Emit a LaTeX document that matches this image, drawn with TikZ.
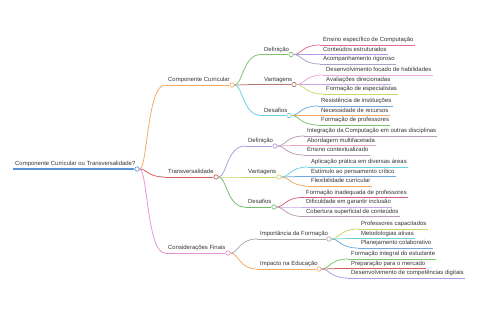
\documentclass[tikz,border=0pt]{standalone}
\usepackage{fontspec}
\setmainfont{Liberation Sans}
\definecolor{txt}{HTML}{333333}
\definecolor{cRoot}{HTML}{5B93D8}
\definecolor{cOrange}{HTML}{F4A863}
\definecolor{cRed}{HTML}{D65A5A}
\definecolor{cPink}{HTML}{E891D6}
\definecolor{cGreen}{HTML}{7CC36E}
\definecolor{cBrown}{HTML}{B57474}
\definecolor{cCyan}{HTML}{6CCFE0}
\definecolor{cRose}{HTML}{E07090}
\definecolor{cPurple}{HTML}{B596E8}
\definecolor{cLav}{HTML}{A9A0CC}
\definecolor{cPinkL}{HTML}{EDA6D8}
\definecolor{cLilac}{HTML}{C8A8E8}
\definecolor{cYG}{HTML}{C5D86A}
\definecolor{cBlue}{HTML}{6FA8DC}
\definecolor{cMauve}{HTML}{B99BB8}
\definecolor{cPinkT}{HTML}{EAA3BD}
\definecolor{cCrimson}{HTML}{D8607F}
\definecolor{cGray}{HTML}{AAAAAA}
\definecolor{cLavT}{HTML}{A99BE0}
\definecolor{cGreenT}{HTML}{6DBF6D}
\newcommand\mmnode[6]{%
  \coordinate (#1s) at (#2,#3);
  \node[lbl] (#1t) at (#2+3,#3-3) {#6};
  \node[dot, draw=#5] (#1) at (#4,#3) {};
  \draw[ln, #5] (#1s) -- (#1.west);
}
\newcommand\mmleaf[5]{%
  \coordinate (#1s) at (#2,#3);
  \node[lbl] (#1t) at (#2+3,#3-3) {#5};
  \draw[ln, #4] (#1s) -- ([xshift=1pt]#1t.east |- #1s);
}
\newcommand\mmlink[3]{%
  \draw[ln, #3] (#1.east) .. controls +(8,0) and +(-18,0) .. (#2s);
}
\begin{document}
\begin{tikzpicture}[x=1pt,y=-1pt,
  lbl/.style={anchor=base west, inner sep=0pt, text=txt, font=\fontsize{5.95}{7}\selectfont},
  dot/.style={circle, fill=white, line width=0.7pt, minimum size=4.4pt, inner sep=0pt},
  ln/.style={line width=0.75pt}]
\useasboundingbox (0,0) rectangle (480,320);
\fill[white] (0,0) rectangle (480,320);
% root
\coordinate (roots) at (13,169);
\node[lbl] (roott) at (15,166) {Componente Curricular ou Transversalidade?};
\node[dot, draw=cRoot] (root) at (137,169) {};
\draw[line width=1.2pt, cRoot] (roots) -- (root.west);
% level 1
\mmnode{cc}{165}{85}{232}{cOrange}{Componente Curricular}
\mmnode{tr}{165}{177}{216}{cRed}{Transversalidade}
\mmnode{cf}{165}{253}{228}{cPink}{Considerações Finais}
\mmlink{root}{cc}{cOrange}
\mmlink{root}{tr}{cRed}
\mmlink{root}{cf}{cPink}
% Componente Curricular
\mmnode{ccd}{261}{54.5}{291}{cGreen}{Definição}
\mmnode{ccv}{261}{84.5}{294}{cBrown}{Vantagens}
\mmnode{ccx}{261}{115.5}{289}{cCyan}{Desafios}
\mmlink{cc}{ccd}{cGreen}
\mmlink{cc}{ccv}{cBrown}
\mmlink{cc}{ccx}{cCyan}
\mmleaf{ccda}{320}{45}{cRose}{Ensino específico de Computação}
\mmleaf{ccdb}{320}{54.5}{cPurple}{Conteúdos estruturados}
\mmleaf{ccdc}{320}{64}{cLav}{Acompanhamento rigoroso}
\mmlink{ccd}{ccda}{cRose}
\mmlink{ccd}{ccdb}{cPurple}
\mmlink{ccd}{ccdc}{cLav}
\mmleaf{ccva}{323}{75}{cPinkL}{Desenvolvimento focado de habilidades}
\mmleaf{ccvb}{323}{84.5}{cLilac}{Avaliações direcionadas}
\mmleaf{ccvc}{323}{94}{cYG}{Formação de especialistas}
\mmlink{ccv}{ccva}{cPinkL}
\mmlink{ccv}{ccvb}{cLilac}
\mmlink{ccv}{ccvc}{cYG}
\mmleaf{ccxa}{318}{106}{cBlue}{Resistência de instituições}
\mmleaf{ccxb}{318}{115.5}{cOrange}{Necessidade de recursos}
\mmleaf{ccxc}{318}{125}{cGreen}{Formação de professores}
\mmlink{ccx}{ccxa}{cBlue}
\mmlink{ccx}{ccxb}{cOrange}
\mmlink{ccx}{ccxc}{cGreen}
% Transversalidade
\mmnode{trd}{245}{146}{275}{cLavT}{Definição}
\mmnode{trv}{245}{177}{279}{cYG}{Vantagens}
\mmnode{trx}{245}{207}{274}{cGreenT}{Desafios}
\mmlink{tr}{trd}{cLavT}
\mmlink{tr}{trv}{cYG}
\mmlink{tr}{trx}{cGreenT}
\mmleaf{trda}{304}{136}{cMauve}{Integração da Computação em outras disciplinas}
\mmleaf{trdb}{304}{145.5}{cPinkT}{Abordagem multifacetada}
\mmleaf{trdc}{304}{155}{cMauve}{Ensino contextualizado}
\mmlink{trd}{trda}{cMauve}
\mmlink{trd}{trdb}{cPinkT}
\mmlink{trd}{trdc}{cMauve}
\mmleaf{trva}{308}{167}{cCyan}{Aplicação prática em diversas áreas}
\mmleaf{trvb}{308}{176.5}{cBlue}{Estímulo ao pensamento crítico}
\mmleaf{trvc}{308}{186}{cOrange}{Flexibilidade curricular}
\mmlink{trv}{trva}{cCyan}
\mmlink{trv}{trvb}{cBlue}
\mmlink{trv}{trvc}{cOrange}
\mmleaf{trxa}{303}{197.5}{cCrimson}{Formação inadequada de professores}
\mmleaf{trxb}{303}{207}{cLilac}{Dificuldade em garantir inclusão}
\mmleaf{trxc}{303}{216.5}{cMauve}{Cobertura superficial de conteúdos}
\mmlink{trx}{trxa}{cCrimson}
\mmlink{trx}{trxb}{cLilac}
\mmlink{trx}{trxc}{cMauve}
% Consideracoes Finais
\mmnode{cfi}{257}{239}{329}{cGray}{Importância da Formação}
\mmnode{cfe}{257}{269}{319}{cOrange}{Impacto na Educação}
\mmlink{cf}{cfi}{cGray}
\mmlink{cf}{cfe}{cOrange}
\mmleaf{cfia}{358}{229}{cYG}{Professores capacitados}
\mmleaf{cfib}{358}{238.5}{cCyan}{Metodologias ativas}
\mmleaf{cfic}{358}{248}{cBlue}{Planejamento colaborativo}
\mmlink{cfi}{cfia}{cYG}
\mmlink{cfi}{cfib}{cCyan}
\mmlink{cfi}{cfic}{cBlue}
\mmleaf{cfea}{348}{259}{cGreen}{Formação integral do estudante}
\mmleaf{cfeb}{348}{268.5}{cRed}{Preparação para o mercado}
\mmleaf{cfec}{348}{278}{cLavT}{Desenvolvimento de competências digitais}
\mmlink{cfe}{cfea}{cGreen}
\mmlink{cfe}{cfeb}{cRed}
\mmlink{cfe}{cfec}{cLavT}
\end{tikzpicture}
\end{document}
